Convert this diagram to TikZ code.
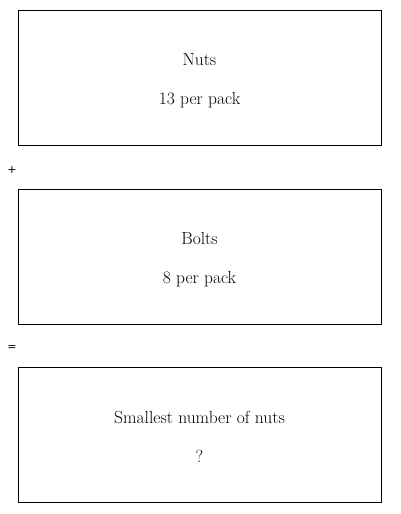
\documentclass[tikz,border=0pt]{standalone}
\usepackage{fontspec}
\usepackage{tikz}
\usetikzlibrary{positioning}
\newfontfamily\signfont{DejaVu Sans}
\tikzset{packbox/.style={draw, line width=1pt, minimum width=363pt, minimum height=135pt, inner sep=0pt},
  boxtext/.style={anchor=base, font=\fontsize{17.5}{20}\selectfont},
  signtext/.style={font=\signfont\fontsize{11}{13}\selectfont}}

\begin{document}
\begin{tikzpicture}[x=1pt, y=-1pt]
  \useasboundingbox (0,0) rectangle (400,514);

  % boxes
  \node[packbox] (nuts) at (199.5, 77.5) {};
  \node[packbox] (bolts) at (199.5, 256.5) {};
  \node[packbox] (answer) at (199.5, 435) {};

  % texts inside boxes
  \node[boxtext] (nutsname) at (199.5, 65) {Nuts};
  \node[boxtext] (nutscount) at (199.5, 104) {13 per pack};
  \node[boxtext] (boltsname) at (199.5, 244) {Bolts};
  \node[boxtext] (boltscount) at (199.5, 283) {8 per pack};
  \node[boxtext] (question) at (199.5, 423) {Smallest number of nuts};
  \node[boxtext] (unknown) at (199.5, 462) {?};

  % signs
  \node[signtext] (plus) at (12, 170) {+};
  \node[signtext] (equals) at (12, 348) {=};
\end{tikzpicture}
\end{document}
